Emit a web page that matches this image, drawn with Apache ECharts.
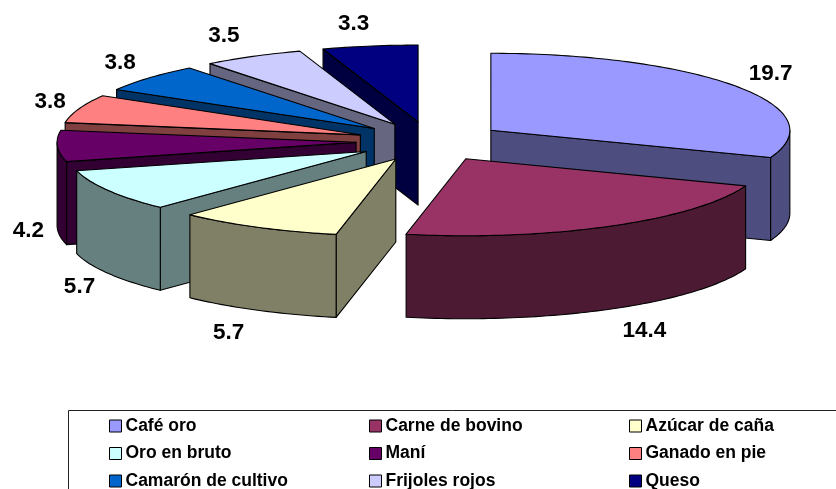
<!DOCTYPE html>
<html>
<head>
<meta charset="utf-8">
<style>html,body{margin:0;padding:0;background:#fff}#c{width:836px;height:489px}</style>
<script src="https://cdn.jsdelivr.net/npm/echarts@6/dist/echarts.min.js"></script>
</head>
<body>
<div id="c"></div>
<script>
const categories = ['Café oro','Carne de bovino','Azúcar de caña','Oro en bruto','Maní','Ganado en pie','Camarón de cultivo','Frijoles rojos','Queso'];
const values = [19.7,14.4,5.7,5.7,4.2,3.8,3.8,3.5,3.3];
const colors = ['#9999FF','#993366','#FFFFCC','#CCFFFF','#660066','#FF8080','#0066CC','#CCCCFF','#000080'];

// projection of the tilted pie
const CX = 430, CY = 141.5, RX = 299, RY = 77, DEPTH = 83, EX = 74, EY = 19.7;
const FONT = '"Liberation Sans", Arial, sans-serif';
const total = values.reduce((a, b) => a + b, 0);
const TAU = Math.PI * 2;

function wallColor(hex) {
  const n = parseInt(hex.slice(1), 16);
  const h = v => Math.round(v / 2).toString(16).padStart(2, '0');
  return '#' + h(n >> 16) + h((n >> 8) & 255) + h(n & 255);
}
const starts = values.map((_, i) => values.slice(0, i).reduce((a, b) => a + b, 0) / total * TAU);
const mids = values.map((v, i) => starts[i] + v / total * TAU / 2);
const ranks = values.map((_, i) => -Math.cos(mids[i]));
const order = ranks.map((r, i) => [r, i]).sort((a, b) => a[0] - b[0]).map(p => p[1]);

function makeRender(i) {
  return function (params, api) {
    const v = api.value(0);
    const a0 = starts[i], a1 = a0 + v / total * TAU, m = mids[i];
    const ax = CX + EX * Math.sin(m), ay = CY - EY * Math.cos(m);
    const rim = a => [ax + RX * Math.sin(a), ay - RY * Math.cos(a)];
    const down = p => [p[0], p[1] + DEPTH];
    const arc = (s, e) => {
      const n = Math.max(2, Math.ceil((e - s) / 0.02)), out = [];
      for (let k = 0; k <= n; k++) out.push(rim(s + (e - s) * k / n));
      return out;
    };
    const top = colors[i], side = wallColor(top);
    const line = { stroke: '#000', lineWidth: 1.1, lineJoin: 'round' };
    const poly = (pts, fill, z2) => ({
      type: 'polygon', z2, shape: { points: pts },
      style: Object.assign({ fill }, line)
    });
    const kids = [];
    const apex = [ax, ay];
    if (Math.sin(a0) < 0) { const r = rim(a0); kids.push(poly([apex, r, down(r), down(apex)], side, 1)); }
    if (Math.sin(a1) > 0) { const r = rim(a1); kids.push(poly([apex, r, down(r), down(apex)], side, 1)); }
    const fs = Math.max(a0, Math.PI / 2), fe = Math.min(a1, Math.PI * 1.5);
    if (fe > fs) {
      const edge = arc(fs, fe);
      kids.push(poly(edge.concat(edge.slice().reverse().map(down)), side, 2));
    }
    kids.push(poly([apex].concat(arc(a0, a1)), top, 3));

    const s = Math.sin(m), c = Math.cos(m), lp = rim(m);
    const dx = (s > 0 ? 34 : -29) * Math.min(1, Math.abs(s) * 3.5);
    const dy = -c * 24 + 1 + (c < 0 ? DEPTH : 0);
    kids.push({
      type: 'text', z2: 5,
      style: {
        x: lp[0] + dx, y: lp[1] + dy, text: v.toFixed(1),
        fill: '#000', font: 'bold 22.5px ' + FONT, align: 'center', verticalAlign: 'middle'
      }
    });
    return { type: 'group', children: kids };
  };
}

const legendBase = {
  orient: 'vertical', top: 417, height: 100, padding: 0, itemWidth: 12, itemHeight: 12, itemGap: 9.5,
  icon: 'rect', selectedMode: false, inactiveColor: '#000',
  itemStyle: { borderColor: '#000', borderWidth: 1 },
  textStyle: { color: '#000', fontFamily: FONT, fontWeight: 'bold', fontSize: 17.5, padding: [0, 0, 0, -1] }
};
const columns = [0, 1, 2].map(k => categories.filter((_, i) => i % 3 === k));
const columnLeft = [109, 369, 629];

const chart = echarts.init(document.getElementById('c'), null, { renderer: 'canvas' });
chart.setOption({
  animation: false,
  backgroundColor: '#fff',
  legend: columns.map((names, k) => Object.assign({}, legendBase, { data: names, left: columnLeft[k] })),
  graphic: [{
    type: 'rect', left: 68, top: 410, silent: true, z: -1,
    shape: { x: 0, y: 0, width: 800, height: 100 },
    style: { fill: '#fff', stroke: '#222', lineWidth: 1 }
  }],
  series: categories.map((name, i) => ({
    type: 'custom', name, coordinateSystem: 'none', silent: true,
    z: 2 + order.indexOf(i),
    itemStyle: { color: colors[i] },
    data: [[values[i]]],
    renderItem: makeRender(i)
  }))
});
</script>
</body>
</html>
